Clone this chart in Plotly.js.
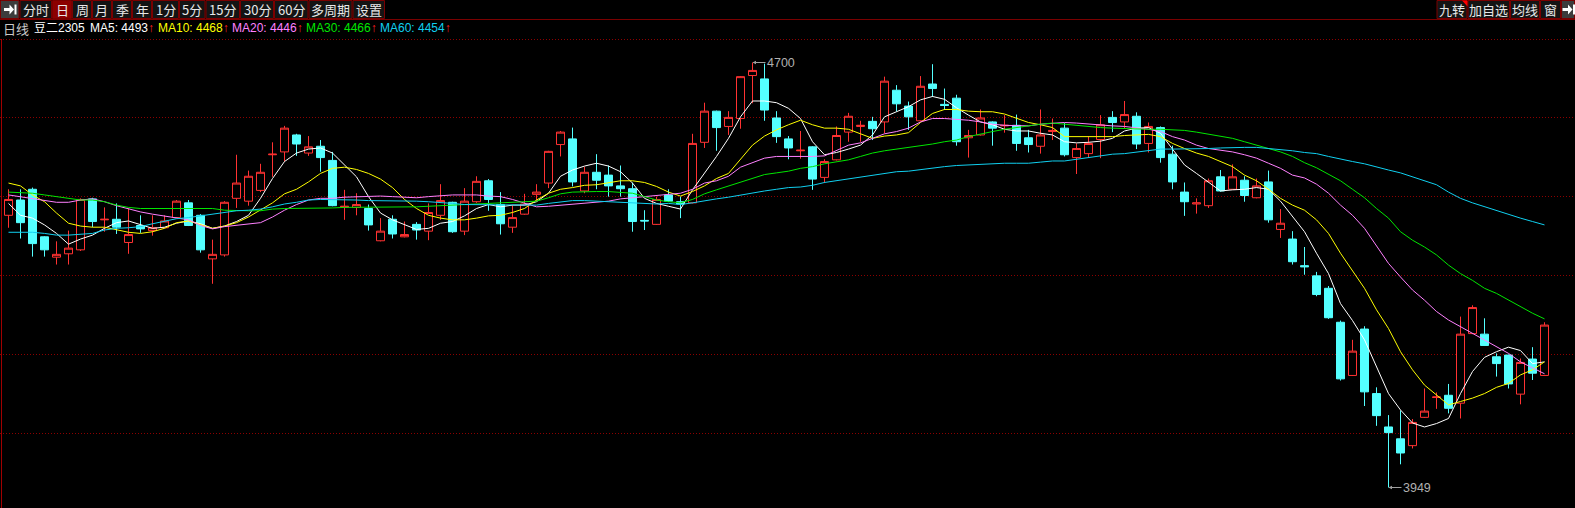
<!DOCTYPE html>
<html>
<head>
<meta charset="utf-8">
<script src="https://cdn.plot.ly/plotly-3.0.1.min.js"></script>
<style>html,body{margin:0;padding:0;background:#000;overflow:hidden}</style>
</head>
<body>
<div id="chart" style="width:1575px;height:508px"></div>
<script>
// ---------------- data ----------------
const periodLabel = '日线';
const symbolName = '豆二2305';
const toolbarLabels = ['分时','日','周','月','季','年','1分','5分','15分','30分','60分','多周期','设置'];
const rightLabels = ['九转','加自选','均线','窗'];
const maNames = ['MA5','MA10','MA20','MA30','MA60'];
const maLegendValues = [4493, 4468, 4446, 4466, 4454];
const highLabel = 4700;
const lowLabel = 3949;

const openP = [
4430,4457,4476,4392,4356,4362,4369,4459,4422,4423,
4382,4412,4403,4408,4426,4452,4430,4353,4360,4460,
4455,4474,4537,4542,4572,4540,4552,4527,4444,4444,
4442,4385,4423,4392,4414,4402,4430,4453,4402,4454,
4491,4449,4409,4432,4467,4487,4555,4565,4473,4506,
4501,4482,4477,4421,4414,4466,4454,4452,4559,4614,
4587,4601,4677,4671,4602,4565,4544,4551,4497,4528,
4577,4587,4596,4595,4651,4623,4597,4662,4626,4637,
4567,4572,4595,4588,4589,4567,4552,4578,4584,4532,
4539,4564,4603,4595,4605,4557,4585,4538,4471,4450,
4447,4498,4476,4492,4461,4489,4405,4388,4341,4323,
4301,4241,4147,4229,4115,4056,4035,4023,4073,4108,
4112,4098,4221,4220,4180,4183,4114,4176,4147];
const highP = [
4476,4476,4479,4393,4384,4403,4460,4461,4444,4451,
4442,4430,4430,4430,4457,4457,4432,4387,4455,4537,
4509,4521,4559,4588,4574,4570,4563,4542,4475,4469,
4449,4425,4430,4419,4418,4451,4485,4454,4478,4499,
4494,4471,4448,4468,4485,4544,4579,4585,4516,4538,
4518,4518,4488,4439,4463,4476,4463,4574,4629,4615,
4614,4676,4700,4698,4614,4570,4579,4552,4529,4587,
4611,4597,4604,4675,4660,4631,4676,4697,4654,4643,
4581,4617,4596,4607,4608,4581,4617,4601,4593,4557,
4569,4607,4614,4632,4612,4594,4587,4553,4488,4460,
4495,4510,4520,4499,4495,4509,4441,4402,4374,4330,
4305,4244,4210,4234,4126,4077,4085,4070,4124,4117,
4132,4251,4271,4248,4186,4184,4177,4197,4241];
const lowP = [
4408,4389,4357,4357,4343,4343,4367,4409,4401,4397,
4362,4399,4394,4407,4425,4411,4364,4309,4357,4443,
4447,4471,4498,4525,4535,4535,4507,4446,4422,4430,
4403,4384,4389,4391,4387,4386,4422,4399,4395,4452,
4438,4396,4399,4431,4455,4478,4534,4481,4469,4476,
4463,4463,4401,4404,4413,4454,4425,4451,4549,4544,
4572,4583,4628,4597,4558,4529,4530,4475,4487,4527,
4560,4560,4563,4575,4613,4581,4596,4639,4616,4553,
4532,4571,4553,4576,4544,4541,4539,4563,4534,4503,
4532,4531,4577,4584,4547,4541,4523,4476,4429,4433,
4443,4472,4475,4454,4460,4417,4390,4343,4325,4287,
4247,4138,4146,4093,4058,3949,3990,4018,4072,4088,
4080,4071,4220,4199,4145,4124,4096,4139,4146];
const closeP = [
4458,4417,4380,4369,4361,4372,4458,4419,4423,4409,
4396,4406,4408,4420,4455,4412,4369,4361,4453,4487,
4499,4506,4538,4584,4556,4551,4532,4447,4446,4449,
4413,4402,4397,4396,4404,4435,4456,4401,4455,4490,
4458,4415,4426,4450,4471,4543,4577,4489,4506,4492,
4482,4477,4419,4420,4458,4455,4450,4557,4614,4585,
4603,4675,4686,4616,4569,4549,4545,4494,4525,4571,
4605,4589,4583,4667,4627,4604,4658,4654,4624,4560,
4571,4602,4584,4589,4557,4555,4572,4580,4537,4548,
4557,4590,4594,4608,4556,4587,4532,4489,4454,4452,
4491,4473,4498,4465,4482,4422,4416,4348,4339,4290,
4249,4141,4190,4118,4076,4046,4010,4064,4084,4109,
4089,4220,4267,4200,4168,4132,4170,4151,4236];

const ma5 = [
4451,4430,4425,4413,4398,4379,4388,4395,4407,4417,
4420,4413,4407,4409,4416,4420,4415,4407,4411,4419,
4430,4460,4495,4525,4540,4547,4549,4540,4519,4498,
4463,4434,4422,4413,4405,4407,4416,4419,4429,4442,
4449,4445,4448,4448,4454,4469,4499,4510,4517,4522,
4517,4507,4487,4460,4451,4446,4441,4475,4504,4534,
4566,4604,4632,4632,4629,4619,4601,4560,4537,4541,
4547,4554,4572,4604,4613,4622,4634,4640,4635,4620,
4607,4595,4590,4582,4579,4579,4575,4572,4560,4558,
4559,4561,4566,4579,4584,4585,4575,4548,4519,4504,
4488,4473,4475,4476,4479,4476,4455,4427,4401,4363,
4327,4274,4244,4210,4162,4115,4086,4063,4056,4062,
4071,4115,4154,4179,4189,4197,4191,4168,4171];
const ma10 = [
4487,4482,4466,4454,4434,4416,4411,4409,4409,4404,
4400,4398,4401,4407,4417,4420,4413,4407,4411,4417,
4427,4439,4452,4468,4476,4489,4504,4513,4515,4511,
4504,4494,4479,4458,4442,4430,4425,4422,4422,4425,
4429,4430,4435,4442,4457,4469,4476,4479,4483,4484,
4488,4491,4491,4488,4481,4471,4464,4472,4482,4495,
4504,4528,4554,4570,4581,4590,4598,4590,4584,4584,
4582,4574,4566,4570,4572,4576,4594,4610,4617,4617,
4614,4613,4613,4609,4601,4594,4590,4585,4569,4569,
4569,4569,4569,4571,4572,4573,4569,4557,4548,4540,
4534,4525,4516,4501,4491,4476,4460,4448,4439,4422,
4398,4363,4333,4301,4263,4230,4189,4157,4130,4112,
4095,4101,4107,4115,4126,4133,4148,4157,4171];
const ma20 = [
4466,4463,4460,4457,4453,4453,4457,4459,4454,4447,
4441,4436,4432,4429,4426,4422,4412,4406,4410,4412,
4414,4417,4427,4439,4449,4457,4460,4460,4462,4463,
4464,4464,4463,4462,4461,4463,4465,4466,4466,4466,
4464,4463,4458,4451,4445,4446,4448,4450,4451,4453,
4455,4459,4461,4464,4466,4467,4469,4476,4487,4491,
4499,4515,4523,4531,4534,4534,4533,4534,4535,4545,
4554,4558,4566,4574,4578,4584,4595,4601,4601,4600,
4598,4595,4591,4589,4588,4588,4591,4593,4594,4593,
4591,4590,4588,4587,4585,4582,4578,4569,4563,4554,
4548,4545,4542,4537,4531,4522,4513,4501,4496,4485,
4469,4448,4430,4407,4377,4345,4321,4298,4280,4260,
4245,4233,4222,4210,4198,4186,4171,4160,4150];
const ma30 = [
4471,4470,4469,4466,4463,4459,4457,4457,4454,4448,
4444,4442,4442,4441,4442,4442,4442,4442,4439,4438,
4438,4438,4441,4442,4442,4442,4442,4443,4444,4444,
4444,4444,4444,4444,4445,4446,4447,4448,4449,4450,
4452,4453,4454,4455,4455,4461,4468,4471,4472,4472,
4472,4470,4469,4463,4457,4454,4452,4458,4468,4475,
4482,4489,4496,4502,4505,4508,4513,4516,4521,4525,
4528,4534,4540,4544,4547,4550,4552,4556,4560,4563,
4569,4574,4578,4582,4585,4589,4591,4593,4591,4588,
4587,4585,4584,4583,4582,4582,4582,4581,4580,4577,
4573,4569,4566,4560,4554,4548,4542,4534,4523,4514,
4503,4491,4476,4461,4442,4425,4401,4386,4374,4360,
4342,4327,4315,4301,4292,4280,4268,4257,4247];
const ma60 = [
4400,4400,4400,4398,4395,4395,4396,4398,4404,4407,
4408,4410,4415,4420,4424,4426,4429,4432,4435,4438,
4439,4441,4445,4450,4453,4457,4458,4458,4458,4457,
4456,4456,4456,4455,4455,4454,4453,4451,4449,4449,
4449,4448,4448,4448,4448,4451,4454,4456,4456,4455,
4455,4454,4452,4451,4450,4451,4449,4452,4456,4459,
4462,4466,4470,4473,4476,4479,4480,4483,4488,4491,
4495,4498,4501,4504,4507,4508,4511,4514,4516,4518,
4519,4521,4521,4522,4522,4522,4524,4526,4526,4529,
4532,4535,4538,4539,4542,4545,4547,4547,4547,4548,
4548,4549,4550,4550,4550,4548,4547,4544,4541,4539,
4534,4529,4525,4521,4515,4510,4505,4498,4491,4484,
4471,4460,4452,4445,4439,4432,4425,4419,4413];

// ---------------- layout constants ----------------
const W = 1575, H = 508, TOP = 38, PH = H - TOP;
const UP = '#FF3232', DOWN = '#54FFFF';
const maColors = ['#FFFFFF', '#FFFF00', '#FF80FF', '#00E600', '#10D0F0'];
const GRID = '#8C0000', BORDER = '#7A0000';
const CJK = '"Noto Sans CJK SC", "Liberation Sans", sans-serif';
const LAT = '"Liberation Sans", Arial, "Noto Sans CJK SC", sans-serif';
const px = X => X / W;
const py = Y => (H - Y) / PH;

const dayIndex = closeP.map((_, i) => i);
const maSeries = [ma5, ma10, ma20, ma30, ma60];

const traces = [{
  type: 'candlestick',
  x: dayIndex, open: openP, high: highP, low: lowP, close: closeP,
  increasing: {line: {color: UP, width: 1}, fillcolor: '#000000'},
  decreasing: {line: {color: DOWN, width: 1}, fillcolor: DOWN},
  whiskerwidth: 0,
  hoverinfo: 'skip',
  showlegend: false
}];
maSeries.forEach((s, k) => traces.push({
  type: 'scatter', mode: 'lines', x: dayIndex, y: s,
  line: {color: maColors[k], width: 1},
  hoverinfo: 'skip', showlegend: false
}));

const shapes = [];
const annotations = [];
function rect(x0, y0, x1, y1, fill, line) {
  shapes.push({type: 'rect', xref: 'paper', yref: 'paper',
    x0: px(x0), x1: px(x1), y0: py(y1), y1: py(y0),
    fillcolor: fill, line: {color: line || 'rgba(0,0,0,0)', width: line ? 1 : 0}, layer: 'above'});
}
function hline(y, x0, x1, color, dash) {
  shapes.push({type: 'line', xref: 'paper', yref: 'paper',
    x0: px(x0), x1: px(x1), y0: py(y), y1: py(y),
    line: {color: color, width: 1, dash: dash || 'solid'}, layer: 'below'});
}
function path(points, fill) {
  const d = points.map((p, i) => (i ? 'L' : 'M') + px(p[0]) + ',' + py(p[1])).join(' ') + ' Z';
  shapes.push({type: 'path', xref: 'paper', yref: 'paper', path: d,
    fillcolor: fill, line: {width: 0}, layer: 'above'});
}
function text(t, X, Y, color, size, family, anchor) {
  annotations.push({xref: 'paper', yref: 'paper', x: px(X), y: py(Y), text: t,
    showarrow: false, xanchor: anchor || 'left', yanchor: 'middle',
    font: {color: color, size: size, family: family}, borderpad: 0});
}
function icon(ox) {
  rect(ox + 4, 8, ox + 10, 11, '#FFFFFF');
  path([[ox + 9.5, 4.5], [ox + 14, 9.5], [ox + 9.5, 14.5]], '#FFFFFF');
  rect(ox + 14.5, 4.5, ox + 16.5, 14.5, '#FFFFFF');
}

// dotted horizontal dividers
[39.5, 117.5, 196.5, 275.5, 354.5, 433.5].forEach(y => hline(y, 0, W, GRID, '1px,2px'));
// left frame line
shapes.push({type: 'line', xref: 'paper', yref: 'paper', x0: px(1.5), x1: px(1.5), y0: 0, y1: py(39),
  line: {color: '#A00000', width: 1}, layer: 'above'});
// toolbar underline
hline(19.5, 0, W, BORDER);

// left toolbar
const leftEdges = [0, 19.5, 52, 72, 92, 112, 132, 152, 179, 205.5, 240, 274, 308.5, 352.5, 385];
rect(0.5, 0.5, leftEdges[1] - 0.5, 18.5, '#3C3C3C', BORDER);
icon(0);
toolbarLabels.forEach((lab, k) => {
  const a = leftEdges[k + 1], b = leftEdges[k + 2];
  rect(a + 0.5, 0.5, b - 0.5, 18.5, lab === '日' ? '#8C0000' : '#141414', BORDER);
  text(lab, (a + b) / 2, 10, '#E8E8E8', 13, CJK, 'center');
});
// right toolbar
const rightEdges = [1436.5, 1467.5, 1510, 1540, 1561, 1575];
rightLabels.forEach((lab, k) => {
  const a = rightEdges[k], b = rightEdges[k + 1];
  rect(a + 0.5, 0.5, b - 0.5, 18.5, '#141414', BORDER);
  text(lab, (a + b) / 2, 10, '#E8E8E8', 13, CJK, 'center');
});
rect(1561.5, 0.5, 1574.5, 18.5, '#3C3C3C', BORDER);
icon(1558.5);
path([[1462, 0.5], [1467.5, 0.5], [1467.5, 6.5]], '#FF0000');

// info line
text(periodLabel, 2, 28, '#C8C8C8', 13, CJK);
text(symbolName, 33, 28, '#FFFFFF', 12, LAT);
const legX = [89, 157, 231, 305, 379];
maNames.forEach((n, k) => {
  text(n + ': ' + maLegendValues[k] + '<span style="color:#FF2020">↑</span>',
       legX[k], 28, maColors[k], 12, LAT);
});

// extreme markers
function extreme(val) {
  const i = val === highLabel ? highP.indexOf(val) : lowP.indexOf(val);
  annotations.push({x: dayIndex[i], y: val, xref: 'x', yref: 'y', text: String(val),
    showarrow: true, ax: 13, ay: 0, axref: 'pixel', ayref: 'pixel',
    xanchor: 'left', yanchor: 'middle', arrowhead: 2, arrowsize: 0.7, arrowwidth: 1,
    arrowcolor: '#A0A0A0', standoff: 0, borderpad: 0,
    font: {color: '#B0B0B0', size: 12.5, family: LAT}});
}
extreme(highLabel);
extreme(lowLabel);

const layout = {
  width: W, height: H,
  margin: {l: 0, r: 0, t: TOP, b: 0, pad: 0},
  paper_bgcolor: '#000000', plot_bgcolor: '#000000',
  showlegend: false,
  boxgap: 1 / 3, boxgroupgap: 0,
  xaxis: {range: [-8.5 / 12, -8.5 / 12 + W / 12], visible: false, showgrid: false, zeroline: false,
          rangeslider: {visible: false}, fixedrange: true},
  yaxis: {range: [3912.8, 4743.3], visible: false, showgrid: false, zeroline: false, fixedrange: true},
  shapes: shapes,
  annotations: annotations
};
Plotly.newPlot('chart', traces, layout, {staticPlot: true, displayModeBar: false});
</script>
</body>
</html>
